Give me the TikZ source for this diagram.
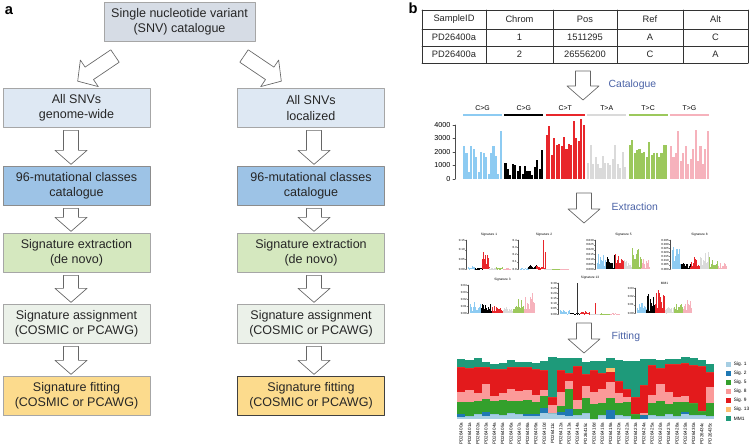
\documentclass[tikz,border=0pt]{standalone}
\usepackage{fontspec}
\setmainfont{Liberation Sans}
\usetikzlibrary{positioning}

% box colours (panel a)
\definecolor{topfill}{HTML}{D6DCE5}
\definecolor{snvfill}{HTML}{DEE8F3}
\definecolor{catfill}{HTML}{9DC3E6}
\definecolor{extfill}{HTML}{D5E8BF}
\definecolor{assfill}{HTML}{EBF1E9}
\definecolor{fitfill}{HTML}{FCDB8D}
\definecolor{txtblue}{HTML}{4A62A6}
% mutation classes
\definecolor{cblue}{HTML}{8DCBF2}
\definecolor{cblack}{HTML}{000000}
\definecolor{cred}{HTML}{E8262B}
\definecolor{cgray}{HTML}{DADADA}
\definecolor{cgreen}{HTML}{9CC85C}
\definecolor{cpink}{HTML}{F6B2BC}
% fitted signatures
\definecolor{fit1}{HTML}{A6CEE3}
\definecolor{fit2}{HTML}{1F78B4}
\definecolor{fit3}{HTML}{33A02C}
\definecolor{fit4}{HTML}{FB9A99}
\definecolor{fit5}{HTML}{E31A1C}
\definecolor{fit6}{HTML}{FDBF6F}
\definecolor{fit7}{HTML}{1E9A7A}

\tikzset{
  pics/fatarrow/.style={code={
    \draw[draw=black!60, fill=white, line width=0.5pt]
      (-7.5,0) -- (7.5,0) -- (7.5,#1) -- (16,#1) -- (0,#1+14)
      -- (-16,#1) -- (-7.5,#1) -- cycle;
  }}
}

% small signature profile: x, baseline, width, height, title, ticks, intervals, colour/amplitude
\newcommand{\sigplot}[8]{%
  \foreach \col/\amp [count=\ci from 0] in {#8}{
    \foreach \k in {0,...,15}{
      \pgfmathsetmacro\hh{#4*\amp*(0.1+0.9*rnd)*(0.45+0.55*rnd)}
      \fill[\col] ({#1+(\ci*16+\k)*#3/96},#2) rectangle ++({#3/96},-\hh);
    }
  }
  \draw[black!70, line width=0.2pt] (#1-1.5,#2) -- (#1-1.5,#2-#4);
  \foreach \t [count=\m from 0] in {#6}{
    \draw[black!70, line width=0.2pt] (#1-1.5,{#2-#4+\m*#4/#7}) -- ++(-1,0);
    \node[font=\fontsize{2.2}{2.5}\selectfont, anchor=east, inner sep=0.3pt]
      at (#1-2.7,{#2-#4+\m*#4/#7}) {\t};
  }
  \node[font=\fontsize{2.4}{2.8}\selectfont] at ({#1+#3/2},#2-#4-5) {#5};
}

\begin{document}
\begin{tikzpicture}[x=0.75pt, y=-0.75pt, line cap=round, line join=round,
  flowbox/.style={draw=#1, line width=0.5pt, minimum width=110.25pt,
    minimum height=29.25pt, inner sep=1pt, align=center, text=black!85,
    font=\fontsize{9.4}{11.3}\selectfont},
  flowbox/.default=black!35,
  panel/.style={font=\bfseries\fontsize{11}{13}\selectfont},
  tabtext/.style={font=\fontsize{7}{8}\selectfont, text=black!85},
  stepword/.style={text=txtblue, font=\fontsize{7.8}{9}\selectfont, anchor=west},
  catlab/.style={font=\fontsize{5.2}{6}\selectfont},
  ticklab/.style={font=\fontsize{5.4}{6}\selectfont, anchor=east, inner sep=1pt},
  samplelab/.style={font=\fontsize{3.4}{3.8}\selectfont, rotate=90, anchor=east, inner sep=0.5pt},
  leglab/.style={font=\fontsize{3.6}{4}\selectfont, anchor=west, inner sep=0.5pt}]

\useasboundingbox (0,0) rectangle (752,446);
\pgfmathsetseed{11}

% -----------------------
% Panel a: workflow
% -----------------------
\node[panel] (la) at (9,11) {a};

\node[flowbox, fill=topfill, minimum width=113.25pt] (snv) at (179.5,22)
  {Single nucleotide variant\\(SNV) catalogue};

% left column (genome-wide)
\node[flowbox, fill=snvfill] (gw) at (76.5,108) {All SNVs\\genome-wide};
\node[flowbox=black!45, fill=catfill] (gwcat) at (76.5,186) {96-mutational classes\\catalogue};
\node[flowbox, fill=extfill] (gwext) at (76.5,253) {Signature extraction\\(de novo)};
\node[flowbox, fill=assfill] (gwass) at (76.5,324) {Signature assignment\\(COSMIC or PCAWG)};
\node[flowbox, fill=fitfill] (gwfit) at (76.5,396) {Signature fitting\\(COSMIC or PCAWG)};

% right column (localized)
\node[flowbox, fill=snvfill] (lc) at (311,108) {All SNVs\\localized};
\node[flowbox=black!45, fill=catfill] (lccat) at (311,186) {96-mutational classes\\catalogue};
\node[flowbox, fill=extfill] (lcext) at (311,253) {Signature extraction\\(de novo)};
\node[flowbox, fill=assfill] (lcass) at (311,324) {Signature assignment\\(COSMIC or PCAWG)};
\node[flowbox=black!75, fill=fitfill] (lcfit) at (311,396) {Signature fitting\\(COSMIC or PCAWG)};

% hollow arrows
\coordinate (lcol) at (71,0);
\coordinate (rcol) at (314,0);
\pic[rotate=-56] at (115,56) {fatarrow=31};
\pic[rotate=56] at (244,56) {fatarrow=31};
\foreach \up/\sh in {gw/20,gwcat/9,gwext/13,gwass/14}
  \pic at ([yshift=-1.9pt]\up.south -| lcol) {fatarrow=\sh};
\foreach \up/\sh in {lc/20,lccat/9,lcext/13,lcass/14}
  \pic at ([yshift=-1.9pt]\up.south -| rcol) {fatarrow=\sh};

% -----------------------
% Panel b: SNV table
% -----------------------
\node[panel] (lb) at (413,8) {b};

\foreach \x in {422,486,553,617,683,748}
  \draw[black!80, line width=0.5pt] (\x,10) -- (\x,63);
\foreach \y in {10,29,46,63}
  \draw[black!80, line width=0.5pt] (422,\y) -- (748,\y);
\foreach \sid/\chr/\pos/\ref/\alt [count=\r from 0] in
  {SampleID/Chrom/Pos/Ref/Alt, PD26400a/1/1511295/A/C, PD26400a/2/26556200/C/A}{
  \pgfmathsetmacro\yy{19.5+17.5*\r}
  \node[tabtext] at (454,\yy) {\sid};
  \node[tabtext] at (519.5,\yy) {\chr};
  \node[tabtext] at (585,\yy) {\pos};
  \node[tabtext] at (650,\yy) {\ref};
  \node[tabtext] at (715.5,\yy) {\alt};
}

\pic at (583,71) {fatarrow=15};
\node[stepword] (wcat) at (604,85) {Catalogue};

% -----------------------
% Catalogue (96 classes)
% -----------------------
\draw[black!70, line width=0.4pt] (455,125) -- (455,179);
\foreach \v [count=\i from 0] in {4000,3000,2000,1000,0}{
  \draw[black!70, line width=0.4pt] (455,{125+13.5*\i}) -- ++(-2,0);
  \node[ticklab] at (452,{125+13.5*\i}) {\v};
}
\foreach \lab/\col/\vals [count=\i from 0] in {
    C>G/cblue/{24,19,5,24,22,16,5,20,19,16,4,19,24,17,4,35},
    C>G/cblack/{12,7,3,11,10,6,9.5,4,9.5,6,6,3,8.5,14,7,21},
    C>T/cred/{32,39,18,30,25,26,24,31,22,26,25,43,30,28,44,40},
    T>A/cgray/{12,25,11,16,11,8,17,12,12,10,15,25,11,8,20,9},
    T>C/cgreen/{25,29,19,21,22,19,20,16,27,18,19,19,16,19,25,25},
    T>G/cpink/{24,16,19,35,13,19,24,11,15,22,36,13,24,11,22,35}}{
  \draw[\col, line width=1.5pt, line cap=butt] ({463+41.4*\i},115) -- ++(39,0);
  \node[catlab] at ({482.5+41.4*\i},108) {\lab};
  \foreach \v [count=\j from 0] in \vals
    \fill[\col] ({463+41.4*\i+2.45*\j},179) rectangle ++(2.1,{-1.36*\v});
}

\pic at (584,193) {fatarrow=16};
\node[stepword] (wext) at (607,207) {Extraction};

% -----------------------
% Extracted signatures
% -----------------------
\sigplot{468}{269}{42}{29}{Signature 1}{0.15,0.10,0.05,0.00}{3}%
  {cblue/0.12,cblack/0.08,cred/0.9,cgray/0.04,cgreen/0.08,cpink/0.03}
\sigplot{520}{269}{48}{29}{Signature 2}{0.4,0.3,0.2,0.1,0.0}{4}%
  {cblue/0.03,cblack/0.2,cred/0.12,cgray/0.01,cgreen/0.01,cpink/0.01}
\fill[cred] (543,269) rectangle ++(0.8,-29);
\fill[cred] (544.5,269) rectangle ++(0.8,-17);
\sigplot{597}{269}{53}{29}{Signature 5}{0.030,0.025,0.020,0.015,0.010,0.005,0.000}{6}%
  {cblue/0.55,cblack/0.55,cred/0.75,cgray/0.45,cgreen/1.0,cpink/0.4}
\sigplot{672}{269}{55}{29}{Signature 8}{0.035,0.030,0.025,0.020,0.015,0.010,0.005,0.000}{7}%
  {cblue/1.0,cblack/0.3,cred/0.6,cgray/0.7,cgreen/0.45,cpink/0.3}
\sigplot{470}{313}{65}{28}{Signature 3}{0.04,0.03,0.02,0.01,0.00}{4}%
  {cblue/0.45,cblack/0.4,cred/0.35,cgray/0.3,cgreen/0.6,cpink/1.0}
\sigplot{560}{314}{60}{31}{Signature 13}{0.30,0.25,0.20,0.15,0.10,0.05,0.00}{6}%
  {cblue/0.15,cblack/0.05,cred/0.1,cgray/0.02,cgreen/0.02,cpink/0.02}
\fill[black!80] (577,314) rectangle ++(0.8,-31);
\fill[cred] (595,314) rectangle ++(0.8,-11);
\sigplot{637}{313}{55}{25}{MM1}{0.03,0.02,0.01,0.00}{3}%
  {cblue/0.5,cblack/0.85,cred/1.0,cgray/0.3,cgreen/0.5,cpink/0.55}

\pic at (584,323) {fatarrow=16};
\node[stepword] (wfit) at (607,337) {Fitting};

% -----------------------
% Fitting: stacked exposures per sample
% -----------------------
\foreach \lab/\vals [count=\i from 0] in {
    PD26400a/{2,3,12,10,25,0,8}, PD26401a/{3,0,14,12,22,0,8},
    PD26402a/{5,0,13,8,26,0,9}, PD26403a/{3,4,13,15,17,0,5},
    PD26404a/{5,0,13,5,27,0,5}, PD26405a/{4,0,15,7,24,0,6},
    PD26406a/{6,0,12,12,22,0,7}, PD26407a/{5,0,13,10,24,0,5},
    PD26408a/{3,2,14,10,23,0,5}, PD26409a/{3,2,12,7,26,0,6},
    PD26410d/{6,5,12,6,20,0,9}, PD26411c/{6,0,0,8,8,0,40},
    PD26412a/{4,3,6,14,22,0,12}, PD26413a/{3,7,20,8,8,0,15},
    PD26414a/{4,0,6,9,34,0,8}, PD26415c/{6,0,15,12,12,0,12},
    PD26416d/{0,0,15,12,22,0,9}, PD26418a/{4,0,12,14,16,0,12},
    PD26419a/{0,9,12,16,10,4,10}, PD26420a/{4,0,12,10,12,0,21},
    PD26422a/{3,0,14,5,8,0,28}, PD26423a/{0,0,5,0,17,0,36},
    PD26424a/{0,4,0,2,28,0,26}, PD26425a/{4,0,12,8,30,0,6},
    PD26426a/{3,0,15,17,16,0,8}, PD26427a/{5,0,10,12,28,0,5},
    PD26428a/{3,0,14,5,33,0,5}, PD26429a/{5,2,10,6,33,0,6},
    PD26430a/{4,0,12,0,38,0,7}, PD26434c/{4,0,4,0,45,0,6},
    PD26435c/{3,0,13,16,15,0,8}}{
  \xdef\ytop{419}
  \foreach \h [count=\k] in \vals {
    \pgfmathsetmacro\ynew{\ytop-\h}
    \fill[fit\k] ({457+8.3*\i},\ytop) rectangle ({465.4+8.3*\i},\ynew);
    \xdef\ytop{\ynew}
  }
  \node[samplelab] at ({461.15+8.3*\i},422) {\lab};
}

% legend
\foreach \lab [count=\k] in {Sig. 1,Sig. 2,Sig. 5,Sig. 8,Sig. 9,Sig. 13,MM1}{
  \fill[fit\k] (726,{361.5+9.1*(\k-1)}) rectangle ++(5,5);
  \node[leglab] at (733,{364+9.1*(\k-1)}) {\lab};
}

\end{tikzpicture}
\end{document}
